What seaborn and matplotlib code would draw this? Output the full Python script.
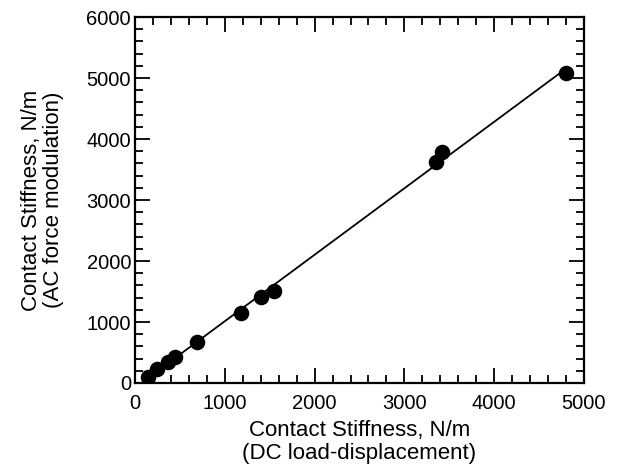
import matplotlib
matplotlib.use("Agg")
import matplotlib.pyplot as plt
import seaborn as sns
import pandas as pd
from matplotlib.ticker import MultipleLocator

dc_stiffness = [137, 248, 367, 444, 685, 1174, 1404, 1552, 3350, 3425, 4800]
ac_stiffness = [103, 230, 350, 421, 667, 1153, 1404, 1513, 3618, 3792, 5077]

df = pd.DataFrame({"dc": dc_stiffness, "ac": ac_stiffness})

sns.set_theme(style="white")
plt.rcParams['font.family'] = ['Liberation Sans', 'DejaVu Sans']
plt.rcParams['text.color'] = 'black'
plt.rcParams['axes.labelcolor'] = 'black'
plt.rcParams['xtick.color'] = 'black'
plt.rcParams['ytick.color'] = 'black'

fig = plt.figure(figsize=(6.29, 4.74), dpi=100)
ax = fig.add_axes([0.215, 0.192, 0.713, 0.772])

sns.regplot(data=df, x="dc", y="ac", ax=ax, ci=None, truncate=True,
            scatter_kws=dict(s=125, color="black", edgecolor="black", linewidths=0,
                             alpha=1, zorder=3),
            line_kws=dict(color="black", lw=1.3))

ax.set_xlim(0, 5000)
ax.set_ylim(0, 6000)
ax.xaxis.set_major_locator(MultipleLocator(1000))
ax.xaxis.set_minor_locator(MultipleLocator(200))
ax.yaxis.set_major_locator(MultipleLocator(1000))
ax.yaxis.set_minor_locator(MultipleLocator(200))
ax.tick_params(which="both", direction="in", top=True, right=True, bottom=True, left=True,
               color="black", labelcolor="black", width=1.3)
ax.tick_params(which="major", length=11, labelsize=14.5)
ax.tick_params(axis="x", which="major", pad=8)
ax.tick_params(axis="y", which="major", pad=3)
ax.tick_params(which="minor", length=5.5)
for s in ax.spines.values():
    s.set_color("black")
    s.set_linewidth(1.6)

ax.set_xlabel("Contact Stiffness, N/m\n(DC load-displacement)", fontsize=16, labelpad=5,
              linespacing=1.1, color="black")
ax.set_ylabel("Contact Stiffness, N/m\n(AC force modulation)", fontsize=16, labelpad=16,
              linespacing=1.1, color="black")

fig.savefig("out.png", dpi=100)
